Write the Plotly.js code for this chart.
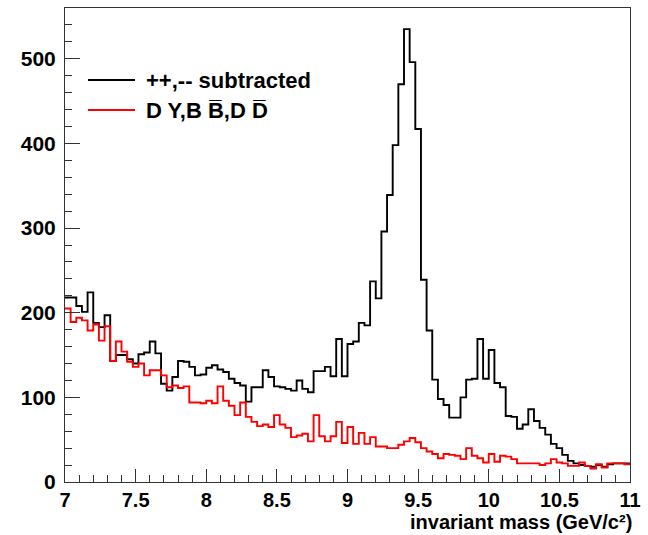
<!DOCTYPE html>
<html><head><meta charset="utf-8">
<script src="https://cdn.plot.ly/plotly-3.0.1.min.js"></script>
<style>html,body{margin:0;padding:0;background:#fff}#chart{width:648px;height:535px}</style>
</head><body><div id="chart"></div>
<script>
// Histogram: 100 bins of width 0.04 GeV/c^2 from 7 to 11
const binLow = 7.0;
const binWidth = 0.04;

// "++,-- subtracted" (black)
const subtracted = [
  218, 218, 208, 201, 224, 188, 183, 197, 143, 150,
  150, 145, 140, 151, 153, 166, 152, 116, 108, 124,
  143, 142, 136, 126, 127, 135, 138, 133, 130, 122,
  117, 114,  95, 112, 112, 132, 124, 113, 112, 110,
  108, 120, 110, 106, 131, 131, 136, 125, 169, 125,
  163, 166, 188, 185, 237, 217, 296, 339, 398, 470,
  535, 496, 417, 239, 179, 121,  98,  91,  76,  76,
  100, 121, 122, 169, 122, 156, 117, 112,  78,  77,
   63,  68,  86,  72,  64,  56,  45,  40,  32,  25,
   22,  20,  19,  18,  20,  18,  21,  22,  22,  22
];

// "DY, BB, DD" (red)
const background = [
  205, 189, 194, 191, 179, 186, 167, 184, 143, 166,
  154, 142, 136, 140, 126, 132, 132, 126, 112, 114,
  111, 113,  94,  94,  93,  96,  93, 113,  96,  90,
   79,  94,  77,  71,  66,  68,  65,  79,  68,  64,
   53,  55,  57,  48,  79,  54,  48,  54,  71,  46,
   65,  45,  58,  45,  53,  42,  42,  40,  40,  44,
   48,  52,  47,  40,  36,  33,  28,  33,  32,  31,
   27,  40,  31,  28,  23,  33,  24,  31,  30,  27,
   22,  22,  22,  22,  20,  22,  27,  23,  22,  19,
   19,  23,  19,  16,  21,  17,  22,  22,  22,  21
];

const seriesNames = ["++,-- subtracted", "D Y,B B\u0305,D D\u0305"];
const seriesColors = ["#000000", "#ff0000"];
const xTickVals = [7, 7.5, 8, 8.5, 9, 9.5, 10, 10.5, 11];
const yTickVals = [0, 100, 200, 300, 400, 500];
const xTitle = "invariant mass (GeV/c\u00B2)";

function stepTrace(vals, name, color) {
  const x = vals.map((_, i) => binLow + i * binWidth);
  x.push(binLow + vals.length * binWidth);
  const y = vals.slice();
  y.push(vals[vals.length - 1]);
  return {
    type: 'scatter', mode: 'lines', x: x, y: y, name: name,
    line: {shape: 'hv', color: color, width: 1.9},
    hoverinfo: 'skip', showlegend: false
  };
}

const traces = [
  stepTrace(subtracted, seriesNames[0], seriesColors[0]),
  stepTrace(background, seriesNames[1], seriesColors[1])
];

const FONT = 'Liberation Sans, Arial, Helvetica, sans-serif';
const W = 648, H = 535, ML = 65, MR = 18, MT = 8, MB = 53;
const PW = W - ML - MR, PH = H - MT - MB;
function px2x(p) { return (p - ML) / PW; }
function py2y(p) { return 1 - (p - MT) / PH; }

const legendRows = [80, 110];
const shapes = legendRows.map((yy, i) => ({
  type: 'line', xref: 'paper', yref: 'paper',
  x0: px2x(88), x1: px2x(135), y0: py2y(yy), y1: py2y(yy),
  line: {color: seriesColors[i], width: 1.9}
}));
const annotations = legendRows.map((yy, i) => ({
  xref: 'paper', yref: 'paper', x: px2x(144), y: py2y(yy),
  xanchor: 'left', yanchor: 'middle', showarrow: false,
  text: seriesNames[i],
  font: {family: FONT, size: 22, weight: 'bold', color: '#000'}
}));
annotations.push({
  xref: 'paper', yref: 'paper', x: px2x(634), y: py2y(522),
  xanchor: 'right', yanchor: 'middle', showarrow: false,
  text: xTitle,
  font: {family: FONT, size: 20, weight: 'bold', color: '#000'}
});

const layout = {
  width: W, height: H,
  margin: {l: ML, r: MR, t: MT, b: MB, pad: 0},
  paper_bgcolor: '#fff', plot_bgcolor: '#fff',
  showlegend: false,
  font: {family: FONT, size: 20, weight: 'bold', color: '#000'},
  xaxis: {
    range: [7, 11], tickvals: xTickVals, ticks: 'inside', ticklen: 13, tickwidth: 1,
    tickcolor: '#333', showgrid: false, zeroline: false,
    showline: true, linecolor: '#333', linewidth: 1, mirror: true,
    tickfont: {family: FONT, size: 20, weight: 'bold', color: '#000'},
    minor: {dtick: 0.1, ticks: 'inside', ticklen: 7, tickcolor: '#333', showgrid: false},
    fixedrange: true
  },
  yaxis: {
    range: [0, 560], tickvals: yTickVals, ticks: 'inside', ticklen: 15, tickwidth: 1,
    tickcolor: '#333', showgrid: false, zeroline: false,
    showline: true, linecolor: '#333', linewidth: 1, mirror: true,
    tickfont: {family: FONT, size: 21, weight: 'bold', color: '#000'},
    minor: {dtick: 20, ticks: 'inside', ticklen: 7, tickcolor: '#333', showgrid: false},
    ticklabelstandoff: 4,
    fixedrange: true
  },
  shapes: shapes,
  annotations: annotations
};

Plotly.newPlot('chart', traces, layout, {displayModeBar: false, staticPlot: true});
</script>
</body></html>
